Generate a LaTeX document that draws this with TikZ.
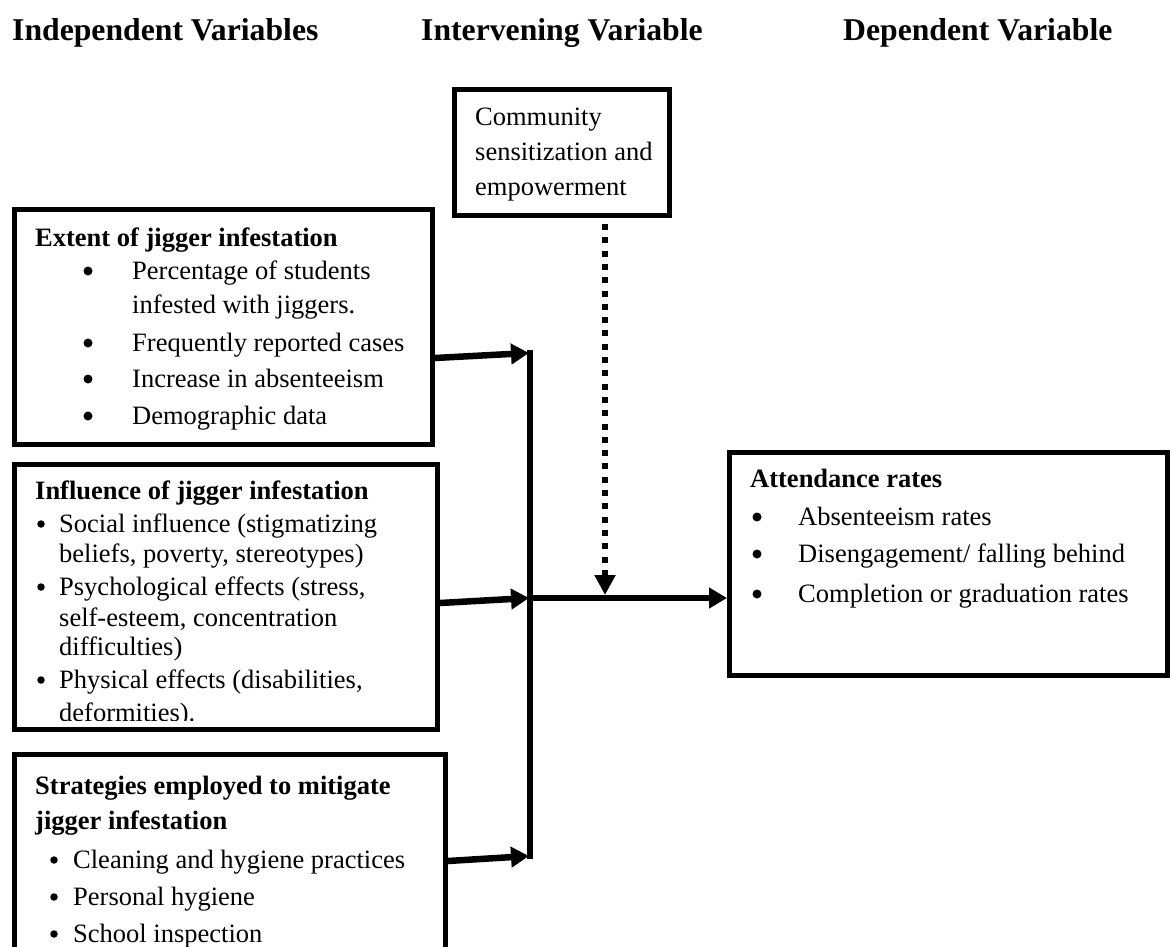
\documentclass[tikz,border=0pt]{standalone}
\usepackage{fontspec}
\setmainfont{Liberation Serif}
\usetikzlibrary{arrows.meta}
\begin{document}
\begin{tikzpicture}[x=1pt,y=-1pt,
  box/.style={draw, line width=5pt, inner sep=0pt, anchor=north west},
  txt/.style={anchor=base west, inner sep=0pt, font=\fontsize{26.5}{30}\selectfont},
  hd/.style={anchor=base west, inner sep=0pt, font=\fontsize{26.5}{30}\selectfont\bfseries},
  ttl/.style={anchor=base west, inner sep=0pt, font=\fontsize{31.7}{36}\selectfont\bfseries},
  bigbul/.style={circle, fill, draw=none, inner sep=0pt, minimum size=9pt, yshift=8pt},
  smallbul/.style={circle, fill, draw=none, inner sep=0pt, minimum size=7.5pt, yshift=8pt},
  conn/.style={line width=6.5pt, -{Triangle[length=18pt,width=20pt]}},
  busline/.style={line width=6pt},
  dotline/.style={line width=6pt, dash pattern=on 6pt off 7.3pt, -{Triangle[length=20pt,width=20pt]}}
]
\clip (0,0) rectangle (1173,946);
\fill[white] (0,0) rectangle (1173,946);

% headers
\node[ttl] (h1) at (12,40) {Independent Variables};
\node[ttl] (h2) at (421,40) {Intervening Variable};
\node[ttl] (h3) at (843,40) {Dependent Variable};

% boxes
\node[box, minimum width=215pt, minimum height=126pt] (comm) at (452,87) {};
\node[box, minimum width=418pt, minimum height=235pt] (extent) at (12,207) {};
\node[box, minimum width=423pt, minimum height=265pt] (infl) at (12,462) {};
\node[box, minimum width=431pt, minimum height=240pt] (strat) at (12,752) {};
\node[box, minimum width=438pt, minimum height=223pt] (att) at (727,450) {};

% community text
\node[txt] (c1) at (475,125) {Community};
\node[txt] (c2) at (475,160) {sensitization and};
\node[txt] (c3) at (475,195) {empowerment};

% extent text
\node[hd] (e0) at (35,246) {Extent of jigger infestation};
\node[bigbul] (eb1) at (88,279) {};
\node[bigbul] (eb2) at (88,351) {};
\node[bigbul] (eb3) at (88,387) {};
\node[bigbul] (eb4) at (88,424) {};
\node[txt] (e1) at (132,279) {Percentage of students};
\node[txt] (e1b) at (132,313) {infested with jiggers.};
\node[txt] (e2) at (132,351) {Frequently reported cases};
\node[txt] (e3) at (132,387) {Increase in absenteeism};
\node[txt] (e4) at (132,424) {Demographic data};

% influence text
\node[hd] (i0) at (35,499) {Influence of jigger infestation};
\node[smallbul] (ib1) at (41,532) {};
\node[smallbul] (ib2) at (41,595) {};
\node[smallbul] (ib3) at (41,688) {};
\node[txt] (i1) at (59,532) {Social influence (stigmatizing};
\node[txt] (i1b) at (59,562) {beliefs, poverty, stereotypes)};
\node[txt] (i2) at (59,595) {Psychological effects (stress,};
\node[txt] (i2b) at (59,626) {self-esteem, concentration};
\node[txt] (i2c) at (59,655) {difficulties)};
\node[txt] (i3) at (59,688) {Physical effects (disabilities,};
\begin{scope}
\clip (14,700) rectangle (437,720);
\node[txt] (i3b) at (59,721) {deformities).};
\end{scope}

% strategies text
\node[hd] (s0) at (35,794) {Strategies employed to mitigate};
\node[hd] (s0b) at (35,829) {jigger infestation};
\node[smallbul] (sb1) at (54,868) {};
\node[smallbul] (sb2) at (54,905) {};
\node[smallbul] (sb3) at (54,942) {};
\node[txt] (s1) at (73,868) {Cleaning and hygiene practices};
\node[txt] (s2) at (73,905) {Personal hygiene};
\node[txt] (s3) at (73,942) {School inspection};

% attendance text
\node[hd] (a0) at (750,487) {Attendance rates};
\node[bigbul] (ab1) at (757,525) {};
\node[bigbul] (ab2) at (757,562) {};
\node[bigbul] (ab3) at (757,602) {};
\node[txt] (a1) at (798,525) {Absenteeism rates};
\node[txt] (a2) at (798,562) {Disengagement/ falling behind};
\node[txt] (a3) at (798,602) {Completion or graduation rates};

% connector coordinates
\coordinate (btop) at (530,350);
\coordinate (bbot) at (530,859);
\coordinate (j1) at (529,353);
\coordinate (j2) at (529,598);
\coordinate (j3) at (529,856);
\coordinate (m0) at (530,598);
\coordinate (y1) at (0,358);
\coordinate (y2) at (0,603);
\coordinate (y3) at (0,861);
\coordinate (dx) at (605,0);
\coordinate (dend) at (605,595);

\draw[busline] (btop) -- (bbot);
\draw[conn] (extent.east |- y1) -- (j1);
\draw[conn] (infl.east |- y2) -- (j2);
\draw[conn] (strat.east |- y3) -- (j3);
\draw[conn] (m0) -- (att.west |- m0);
\draw[dotline] ([yshift=-6pt]comm.south -| dx) -- (dend);
\end{tikzpicture}
\end{document}
